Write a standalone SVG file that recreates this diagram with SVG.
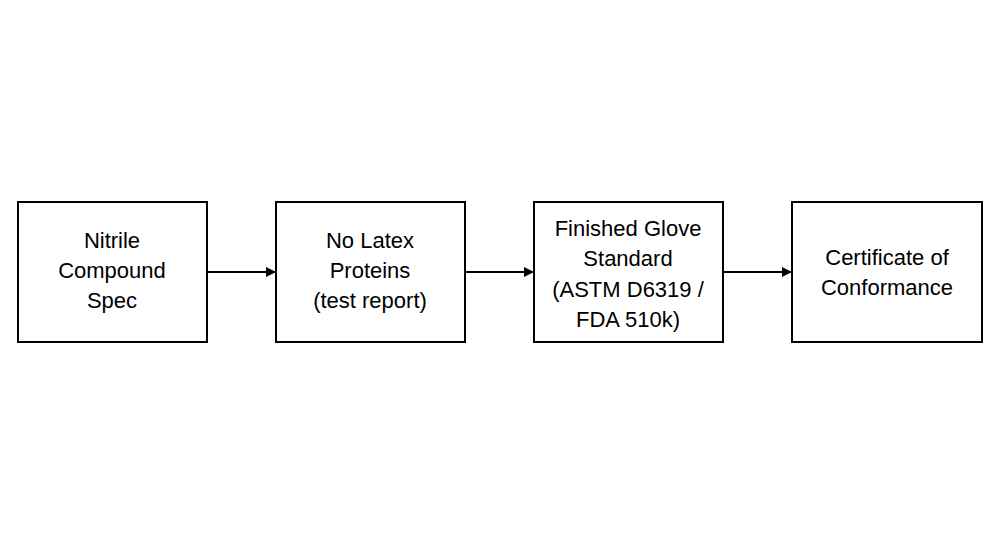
<svg xmlns="http://www.w3.org/2000/svg" width="1000" height="545" viewBox="0 0 1000 545">
<style>
rect{fill:#fff;stroke:#000;stroke-width:2}
text{font-family:"Liberation Sans",Arial,sans-serif;font-size:22px;text-anchor:middle;fill:#000}
.c{stroke:#000;stroke-width:2;fill:none}
</style>
<defs><marker id="a" markerWidth="10" markerHeight="10" refX="9" refY="5" orient="auto" markerUnits="userSpaceOnUse"><path d="M0,0 L10,5 L0,10 Z" fill="#000"/></marker></defs>
<rect x="0" y="0" width="1000" height="545" style="stroke:none"/>
<g id="n1"><rect x="18" y="202" width="189" height="140"/><text x="112" y="248">Nitrile</text><text x="112" y="278">Compound</text><text x="112" y="308">Spec</text></g>
<g id="n2"><rect x="276" y="202" width="189" height="140"/><text x="370" y="248">No Latex</text><text x="370" y="278">Proteins</text><text x="370" y="308">(test report)</text></g>
<g id="n3"><rect x="534" y="202" width="189" height="140"/><text x="628" y="236">Finished Glove</text><text x="628" y="266">Standard</text><text x="628" y="297">(ASTM D6319 /</text><text x="628" y="327">FDA 510k)</text></g>
<g id="n4"><rect x="792" y="202" width="190" height="140"/><text x="887" y="265">Certificate of</text><text x="887" y="295">Conformance</text></g>
<g id="connectors">
<path class="c" d="M207,272 H275" marker-end="url(#a)"/>
<path class="c" d="M465,272 H533" marker-end="url(#a)"/>
<path class="c" d="M723,272 H791" marker-end="url(#a)"/>
</g>
</svg>
